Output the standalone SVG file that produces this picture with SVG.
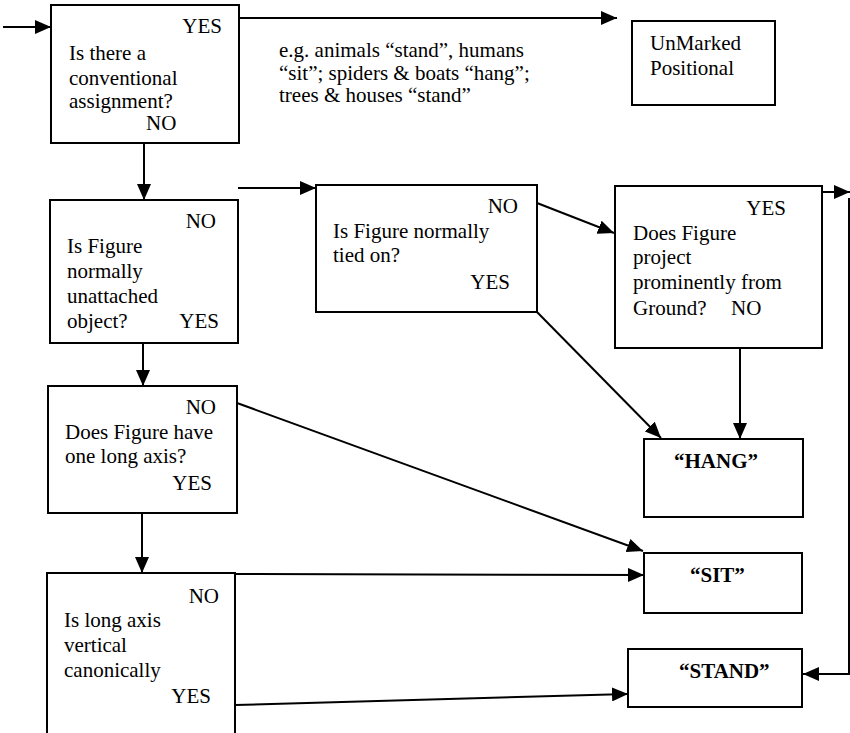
<svg xmlns="http://www.w3.org/2000/svg" width="850" height="733" viewBox="0 0 850 733">
<style>
  .box { fill: #fff; stroke: #000; stroke-width: 2; }
  .t { font-family: "Liberation Serif", "Times New Roman", serif; font-size: 21px; fill: #000; }
  .b { font-weight: bold; }
  .e { text-anchor: end; }
  .c { fill: none; stroke: #000; stroke-width: 2; marker-end: url(#ah); }
  .ln { fill: none; stroke: #000; stroke-width: 2; }
</style>
<defs>
  <marker id="ah" markerUnits="userSpaceOnUse" markerWidth="16" markerHeight="14" refX="16" refY="7" orient="auto">
    <path d="M0,0 L16,7 L0,14 z" fill="#000"/>
  </marker>
</defs>
<rect width="850" height="733" fill="#fff"/>

<g id="connectors">
  <line class="c" x1="3" y1="27" x2="51" y2="27"/>
  <line class="c" x1="239" y1="18" x2="617" y2="18"/>
  <line class="c" x1="144" y1="144" x2="144" y2="200"/>
  <line class="c" x1="238" y1="188" x2="316" y2="188"/>
  <line class="c" x1="537" y1="203" x2="614" y2="233"/>
  <line class="c" x1="537" y1="312" x2="661" y2="438"/>
  <line class="c" x1="740" y1="348" x2="740" y2="439"/>
  <line class="c" x1="822" y1="192" x2="850" y2="192"/>
  <polyline class="c" points="849,198 849,674 803,674"/>
  <line class="c" x1="143" y1="343" x2="143" y2="386"/>
  <line class="c" x1="237" y1="403" x2="643" y2="551"/>
  <line class="c" x1="142" y1="513" x2="142" y2="573"/>
  <line class="c" x1="235" y1="574" x2="644" y2="575"/>
  <line class="c" x1="235" y1="705" x2="628" y2="694"/>
</g>

<g id="n-conventional">
  <rect class="box" x="51" y="5" width="188" height="138"/>
  <text class="t e" x="222" y="33">YES</text>
  <text class="t" x="69" y="60">Is there a</text>
  <text class="t" x="69" y="85">conventional</text>
  <text class="t" x="69" y="108">assignment?</text>
  <text class="t" x="146" y="130">NO</text>
</g>

<g id="n-example">
  <text class="t" x="279" y="57">e.g. animals “stand”, humans</text>
  <text class="t" x="279" y="80">“sit”; spiders &amp; boats “hang”;</text>
  <text class="t" x="279" y="102">trees &amp; houses “stand”</text>
</g>

<g id="n-unmarked">
  <rect class="box" x="632" y="21" width="143" height="84"/>
  <text class="t" x="650" y="50">UnMarked</text>
  <text class="t" x="650" y="75">Positional</text>
</g>

<g id="n-unattached">
  <rect class="box" x="50" y="200" width="188" height="143"/>
  <text class="t e" x="216" y="228">NO</text>
  <text class="t" x="67" y="253">Is Figure</text>
  <text class="t" x="67" y="278">normally</text>
  <text class="t" x="67" y="303">unattached</text>
  <text class="t" x="67" y="328">object?</text>
  <text class="t e" x="219" y="328">YES</text>
</g>

<g id="n-tied">
  <rect class="box" x="316" y="185" width="221" height="127"/>
  <text class="t e" x="518" y="213">NO</text>
  <text class="t" x="333" y="238">Is Figure normally</text>
  <text class="t" x="333" y="262">tied on?</text>
  <text class="t e" x="510" y="289">YES</text>
</g>

<g id="n-project">
  <rect class="box" x="615" y="186" width="207" height="162"/>
  <text class="t e" x="786" y="215">YES</text>
  <text class="t" x="633" y="240">Does Figure</text>
  <text class="t" x="633" y="264">project</text>
  <text class="t" x="633" y="289">prominently from</text>
  <text class="t" x="633" y="315">Ground?</text>
  <text class="t" x="731" y="315">NO</text>
</g>

<g id="n-longaxis">
  <rect class="box" x="48" y="386" width="189" height="127"/>
  <text class="t e" x="216" y="414">NO</text>
  <text class="t" x="65" y="439">Does Figure have</text>
  <text class="t" x="65" y="463">one long axis?</text>
  <text class="t e" x="212" y="490">YES</text>
</g>

<g id="n-vertical">
  <rect class="box" x="47" y="573" width="188" height="170"/>
  <text class="t e" x="219" y="603">NO</text>
  <text class="t" x="64" y="627">Is long axis</text>
  <text class="t" x="64" y="652">vertical</text>
  <text class="t" x="64" y="677">canonically</text>
  <text class="t e" x="211" y="703">YES</text>
</g>

<g id="n-hang">
  <rect class="box" x="644" y="439" width="159" height="78"/>
  <text class="t b" x="674" y="468">“HANG”</text>
</g>

<g id="n-sit">
  <rect class="box" x="644" y="553" width="158" height="60"/>
  <text class="t b" x="690" y="582">“SIT”</text>
</g>

<g id="n-stand">
  <rect class="box" x="628" y="649" width="174" height="58"/>
  <text class="t b" x="679" y="678">“STAND”</text>
</g>
</svg>
